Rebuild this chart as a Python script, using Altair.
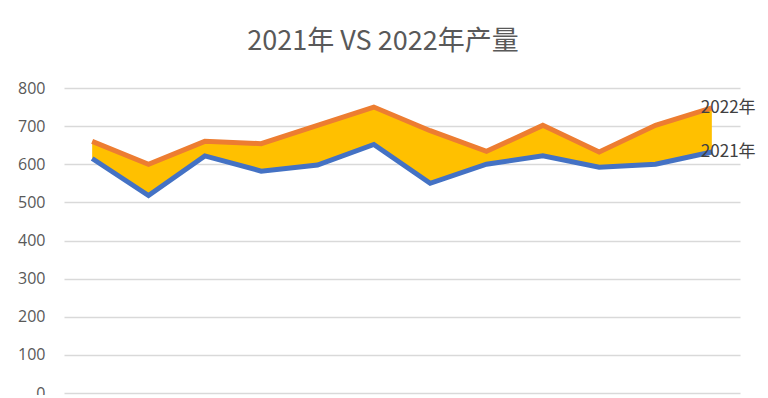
import altair as alt
import pandas as pd

months = ["1月", "2月", "3月", "4月", "5月", "6月", "7月", "8月", "9月", "10月", "11月", "12月"]
y2021 = [615, 518, 622, 582, 598, 652, 550, 600, 622, 592, 600, 632]
y2022 = [660, 600, 660, 654, 702, 750, 688, 634, 702, 632, 702, 748]
y_ticks = [0, 100, 200, 300, 400, 500, 600, 700, 800]
series_names = ["2021年", "2022年"]
series_colors = ["#4472C4", "#ED7D31"]

wide = pd.DataFrame({"month": months, "a": y2021, "b": y2022})
long = pd.DataFrame({
    "month": months * 2,
    "value": y2021 + y2022,
    "series": [series_names[0]] * len(months) + [series_names[1]] * len(months),
})
last = long.groupby("series").tail(1)

x_enc = alt.X("month:N", sort=months, scale=alt.Scale(type="point", padding=0.5), axis=None)
y_scale = alt.Scale(domain=[0, 800])
y_axis = alt.Axis(values=y_ticks, tickCount=9, title=None, domain=False, ticks=False,
                  labelPadding=19, labelFontSize=16, labelColor="#595959", labelOverlap=False,
                  labelFont="Open Sans", grid=True, gridColor="#D9D9D9", gridWidth=1.5)

area = alt.Chart(wide).mark_area(color="#FFC000", opacity=1).encode(
    x=x_enc,
    y=alt.Y("a:Q", scale=y_scale, axis=y_axis),
    y2="b:Q",
)

lines = alt.Chart(long).mark_line(strokeWidth=5, strokeCap="butt", strokeJoin="miter").encode(
    x=x_enc,
    y=alt.Y("value:Q", scale=y_scale, axis=y_axis),
    color=alt.Color("series:N", scale=alt.Scale(domain=series_names, range=series_colors), legend=None),
)

labels = alt.Chart(last).mark_text(align="left", baseline="middle", dx=-11, fontSize=17,
                                   font="Noto Sans CJK SC", color="#404040").encode(
    x=x_enc,
    y=alt.Y("value:Q", scale=y_scale, axis=y_axis),
    text="series:N",
)

chart = alt.layer(area, lines, labels).properties(
    width=676, height=305,
    title=alt.TitleParams("2021年 VS 2022年产量", fontSize=27, font="Noto Sans CJK SC",
                          fontWeight="normal", color="#595959", anchor="middle", dx=-19, offset=24),
    autosize=alt.AutoSizeParams(type="none"),
    padding={"left": 56, "top": 80, "right": 20, "bottom": 2},
).configure(background="white").configure_view(stroke=None)

chart.save("out.html", embed_options={"renderer": "svg", "actions": False})
